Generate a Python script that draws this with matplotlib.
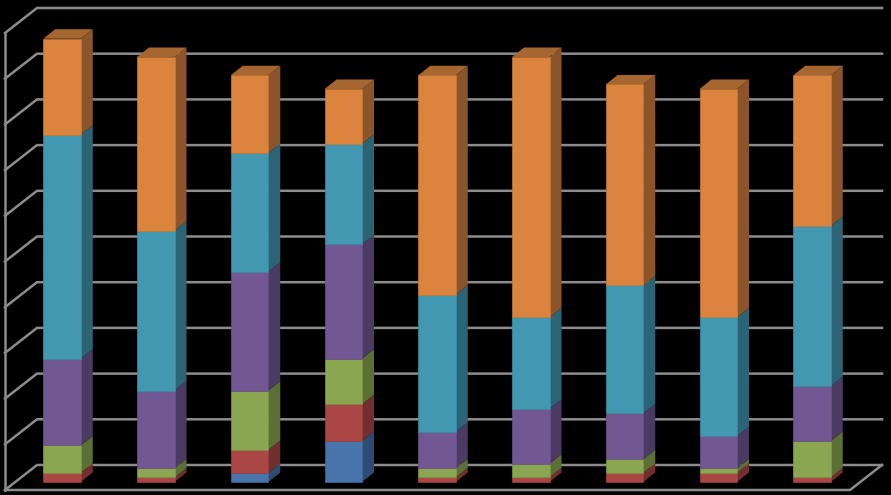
import matplotlib

matplotlib.use('Agg')
import matplotlib.pyplot as plt

# stacked values, bottom to top
blue = [0.0, 0.0, 0.2, 0.9, 0.0, 0.0, 0.0, 0.0, 0.0]
red = [0.2, 0.1, 0.5, 0.8, 0.1, 0.1, 0.2, 0.2, 0.1]
green = [0.6, 0.2, 1.3, 1.0, 0.2, 0.3, 0.3, 0.1, 0.8]
purple = [1.9, 1.7, 2.6, 2.5, 0.8, 1.2, 1.0, 0.7, 1.2]
teal = [4.9, 3.5, 2.6, 2.2, 3.0, 2.0, 2.8, 2.6, 3.5]
orange = [2.1, 3.8, 1.7, 1.2, 4.8, 5.7, 4.4, 5.0, 3.3]
n_grid = 10

series = [blue, red, green, purple, teal, orange]
front_colors = ['#4674AB', '#AA4643', '#8AA650', '#725893', '#4198B0', '#DB843D']
side_colors = ['#2E4C72', '#722F2D', '#5C6F35', '#4B3A61', '#2B6475', '#8B5529']
top_colors = ['#3B6190', '#8F3B39', '#738B43', '#614C7E', '#377F94', '#A5662F']
edge_colors = ['#41699C', '#9C403E', '#7F9949', '#6A5289', '#3D8EA3', '#C97A38']

px_x = 93.75
px_y = 45.7
bar_w = 37.5 / px_x
dx = 12 / px_x
dy = 9.5 / px_y

fig = plt.figure(figsize=(8.91, 4.95), dpi=100, facecolor='black')
ax = fig.add_axes([0, 0, 1, 1])
ax.set_facecolor('black')
ax.set_xlim(-62 / px_x, 829 / px_x)
ax.set_ylim(-13 / px_y, 482 / px_y)
ax.axis('off')

# walls and floor
grid_color = '#8C8C8C'
wall_l = -25 / px_x
wall_r = 820 / px_x
back_y = 17 / px_y
front_l = -57 / px_x
front_r = 788 / px_x
front_y = -8 / px_y
for k in range(n_grid + 1):
    yb = back_y + k
    yf = front_y + k
    ax.plot([front_l, wall_l, wall_r], [yf, yb, yb], color=grid_color, lw=1.8, solid_joinstyle='miter')
ax.plot([front_l, front_l], [front_y, front_y + n_grid], color=grid_color, lw=1.8)
ax.plot([front_l, front_r, wall_r], [front_y, front_y, back_y], color=grid_color, lw=1.8, solid_joinstyle='miter')

# bars, one box per segment
for i in range(len(orange)):
    x0 = i - bar_w / 2
    x1 = i + bar_w / 2
    base = 0.0
    for s, vals in enumerate(series):
        v = vals[i]
        if v == 0:
            continue
        top = base + v
        ax.fill([x1, x1 + dx, x1 + dx, x1], [base, base + dy, top + dy, top], color=side_colors[s], lw=0, zorder=3)
        ax.fill([x0, x1, x1, x0], [base, base, top, top], facecolor=front_colors[s], edgecolor=edge_colors[s], lw=0.5, zorder=4)
        base = top
    # only the last segment shows its top face
    ax.fill([x0, x1, x1 + dx, x0 + dx], [base, base, base + dy, base + dy], color=top_colors[5], lw=0, zorder=3)

fig.savefig('out.png', dpi=100, facecolor='black')
